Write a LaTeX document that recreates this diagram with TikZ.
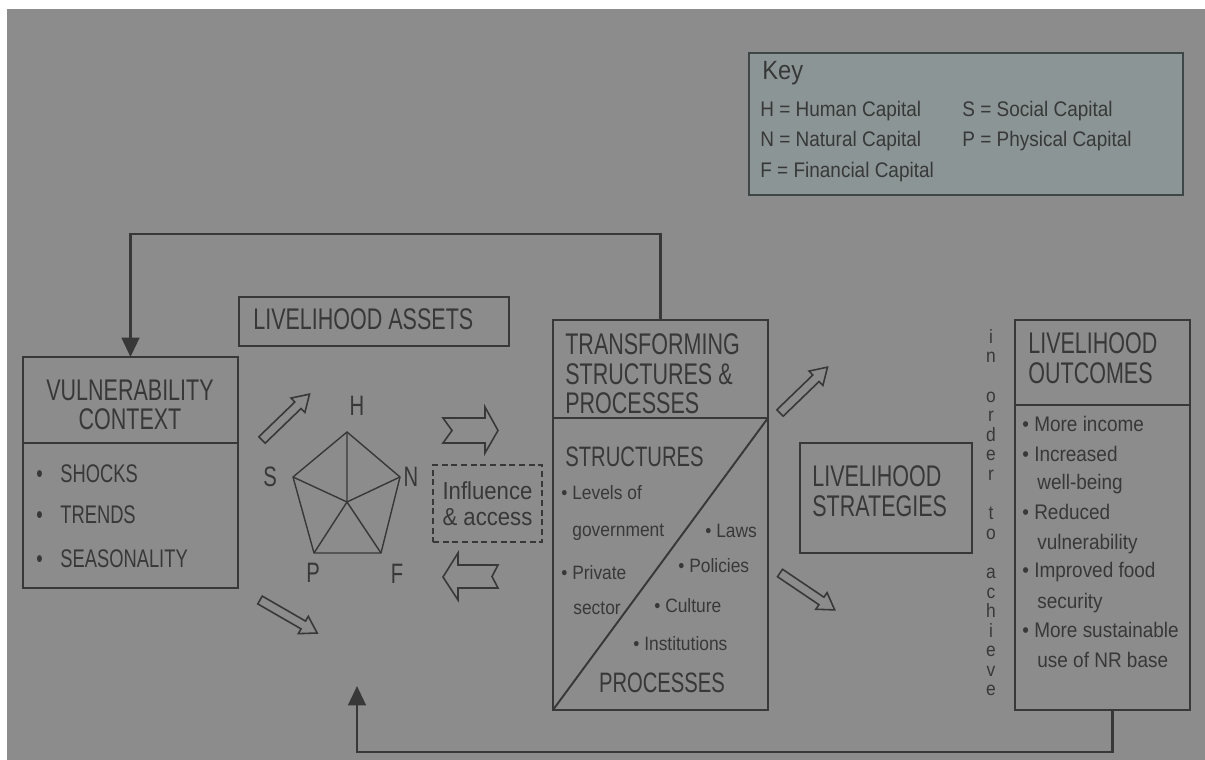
\documentclass[tikz,border=0pt]{standalone}
\usepackage{fontspec}
\setmainfont{Liberation Sans}[FakeStretch=0.9]
\newfontfamily\capsfont{Liberation Sans}[FakeStretch=0.72]
\usetikzlibrary{arrows.meta}

\definecolor{bggray}{HTML}{8C8C8C}
\definecolor{ink}{HTML}{383838}
\definecolor{keyfill}{HTML}{8B9595}
\definecolor{keyline}{HTML}{3E4646}

\tikzset{
  box/.style={draw=ink, line width=1.1pt, inner sep=0pt, outer sep=0pt, anchor=north west},
  title/.style={font=\capsfont\fontsize{17}{17}\selectfont, text=ink, inner sep=0pt, align=left},
  body/.style={font=\fontsize{11}{12}\selectfont, text=ink, inner sep=0pt, anchor=base west},
  hollow/.style={draw=ink, line width=0.9pt},
  feedback/.style={draw=ink, line width=1.6pt, -{Triangle[length=11pt,width=10pt]}},
  fatarrow/.pic={\draw[hollow] (0,-4.5) -- (50,-4.5) -- (50,-10) -- (66,0) -- (50,10) -- (50,4.5) -- (0,4.5) -- cycle;}
}

\begin{document}
\begin{tikzpicture}[x=0.02cm, y=-0.02cm]

  % frame
  \fill[white] (0,0) rectangle (1205,760);
  \fill[bggray] (7,9) rectangle (1205,760);
  \useasboundingbox (0,0) rectangle (1205,760);

  % key
  \node[box, draw=keyline, fill=keyfill, minimum width=8.68cm, minimum height=2.84cm] (key) at (749,53) {};
  \node[body, font=\fontsize{15}{15}\selectfont] (keyhead) at (762,80) {Key};
  \node[body, font=\fontsize{12}{12}\selectfont] (keyh) at (760,117) {H = Human Capital};
  \node[body, font=\fontsize{12}{12}\selectfont] (keyn) at (760,147) {N = Natural Capital};
  \node[body, font=\fontsize{12}{12}\selectfont] (keyf) at (760,178) {F = Financial Capital};
  \node[body, font=\fontsize{12}{12}\selectfont] (keys) at (962,117) {S = Social Capital};
  \node[body, font=\fontsize{12}{12}\selectfont] (keyp) at (962,147) {P = Physical Capital};

  % vulnerability context
  \node[box, minimum width=4.3cm, minimum height=4.62cm] (vuln) at (23,357) {};
  \draw[ink, line width=1.1pt] (vuln.west |- 0,443) -- (vuln.east |- 0,443);
  \node[title, align=center, anchor=north, font=\capsfont\fontsize{17}{16}\selectfont] (vulntitle) at (130,380) {VULNERABILITY\\CONTEXT};
  \node[body, font=\capsfont\fontsize{14.5}{14.5}\selectfont] (shocks) at (36,482) {\textbullet\hspace{10pt}SHOCKS};
  \node[body, font=\capsfont\fontsize{14.5}{14.5}\selectfont] (trends) at (36,523) {\textbullet\hspace{10pt}TRENDS};
  \node[body, font=\capsfont\fontsize{14.5}{14.5}\selectfont] (season) at (36,567) {\textbullet\hspace{10pt}SEASONALITY};

  % livelihood assets
  \node[box, minimum width=5.4cm, minimum height=0.98cm] (assets) at (239,297) {};
  \node[title, anchor=north west] (assetstitle) at (253,308) {LIVELIHOOD ASSETS};

  % pentagon
  \coordinate (h) at (347,432);
  \coordinate (n) at (400,477);
  \coordinate (f) at (381,553);
  \coordinate (p) at (314,553);
  \coordinate (s) at (293,477);
  \coordinate (c) at (347,502);
  \draw[ink, line width=0.8pt, line join=round] (h) -- (n) -- (f) -- (p) -- (s) -- cycle;
  \draw[ink, line width=0.8pt] (c) -- (h) (c) -- (n) (c) -- (f) (c) -- (p) (c) -- (s);
  \node[title, font=\capsfont\fontsize{16}{16}\selectfont] (labh) at (357,406) {H};
  \node[title, font=\capsfont\fontsize{16}{16}\selectfont] (labn) at (411,477) {N};
  \node[title, font=\capsfont\fontsize{16}{16}\selectfont] (labf) at (397,574) {F};
  \node[title, font=\capsfont\fontsize{16}{16}\selectfont] (labp) at (313,573) {P};
  \node[title, font=\capsfont\fontsize{16}{16}\selectfont] (labs) at (270,477) {S};

  % hollow arrows
  \pic[rotate=44] at (262,440) {fatarrow};
  \pic[rotate=-30] at (260,600) {fatarrow};
  \pic[rotate=44] at (780,413) {fatarrow};
  \pic[rotate=-34] at (780,573) {fatarrow};
  \draw[hollow] (443,418) -- (485,418) -- (485,407) -- (498,430.5) -- (485,453) -- (485,443) -- (443,443) -- (452,430.5) -- cycle;
  \draw[hollow] (443,577) -- (458,553) -- (458,565) -- (498,565) -- (492,576.5) -- (498,588) -- (458,588) -- (458,600) -- cycle;

  % influence and access
  \node[draw=ink, line width=1.2pt, dash pattern=on 3.5pt off 2pt, minimum width=2.18cm, minimum height=1.54cm,
        inner sep=0pt, align=center, text=ink, font=\fontsize{14}{14.7}\selectfont] (influence) at (487.5,503.5) {Influence\\\& access};

  % transforming structures and processes
  \node[box, minimum width=4.3cm, minimum height=7.8cm] (trans) at (553,320) {};
  \draw[ink, line width=1.1pt] (trans.west |- 0,418) -- (trans.east |- 0,418);
  \draw[ink, line width=1.1pt] (trans.east |- 0,418) -- (trans.south west);
  \node[title, anchor=north west] (transtitle) at (565,333) {TRANSFORMING\\STRUCTURES \&\\PROCESSES};
  \node[title, anchor=north west, font=\capsfont\fontsize{16}{16}\selectfont] (structures) at (565,447) {STRUCTURES};
  \node[title, anchor=north, font=\capsfont\fontsize{16}{16}\selectfont] (processes) at (662,673) {PROCESSES};
  \node[body] (levels) at (561,500) {\textbullet\ Levels of};
  \node[body] (govt) at (572,537) {government};
  \node[body] (private) at (561,580) {\textbullet\ Private};
  \node[body] (sector) at (573,615) {sector};
  \node[body] (laws) at (705,538) {\textbullet\ Laws};
  \node[body] (policies) at (678,573) {\textbullet\ Policies};
  \node[body] (culture) at (654,612) {\textbullet\ Culture};
  \node[body] (institutions) at (633,650) {\textbullet\ Institutions};

  % livelihood strategies
  \node[box, minimum width=3.44cm, minimum height=2.2cm] (strat) at (800,443) {};
  \node[title, anchor=north west] (strattitle) at (812,465) {LIVELIHOOD\\STRATEGIES};

  % in order to achieve
  \node[text=ink, inner sep=0pt, anchor=north, align=center, font=\fontsize{11}{11.15}\selectfont] (inorder) at (991,329)
    {i\\n\\~\\o\\r\\d\\e\\r\\~\\t\\o\\~\\a\\c\\h\\i\\e\\v\\e};

  % livelihood outcomes
  \node[box, minimum width=3.5cm, minimum height=7.8cm] (outcomes) at (1015,320) {};
  \draw[ink, line width=1.1pt] (outcomes.west |- 0,405) -- (outcomes.east |- 0,405);
  \node[title, anchor=north west] (outtitle) at (1028,332) {LIVELIHOOD\\OUTCOMES};
  \node[body, font=\fontsize{12}{12}\selectfont] (income) at (1022,432) {\textbullet\ More income};
  \node[body, font=\fontsize{12}{12}\selectfont] (increased) at (1022,462) {\textbullet\ Increased};
  \node[body, font=\fontsize{12}{12}\selectfont] (wellbeing) at (1037,490) {well-being};
  \node[body, font=\fontsize{12}{12}\selectfont] (reduced) at (1022,520) {\textbullet\ Reduced};
  \node[body, font=\fontsize{12}{12}\selectfont] (vulnerab) at (1037,550) {vulnerability};
  \node[body, font=\fontsize{12}{12}\selectfont] (food) at (1022,578) {\textbullet\ Improved food};
  \node[body, font=\fontsize{12}{12}\selectfont] (security) at (1037,608) {security};
  \node[body, font=\fontsize{12}{12}\selectfont] (sustain) at (1022,638) {\textbullet\ More sustainable};
  \node[body, font=\fontsize{12}{12}\selectfont] (nrbase) at (1037,667) {use of NR base};

  % feedback loops
  \coordinate (toprun) at (0,234);
  \coordinate (botrun) at (0,752);
  \coordinate (loopend) at (357,686);
  \draw[feedback] (trans.north) -- (trans.north |- toprun) -| (vuln.north);
  \draw[feedback] ([xshift=0.2cm]outcomes.south) -- ([xshift=0.2cm]outcomes.south |- botrun) -| (loopend);

\end{tikzpicture}
\end{document}
